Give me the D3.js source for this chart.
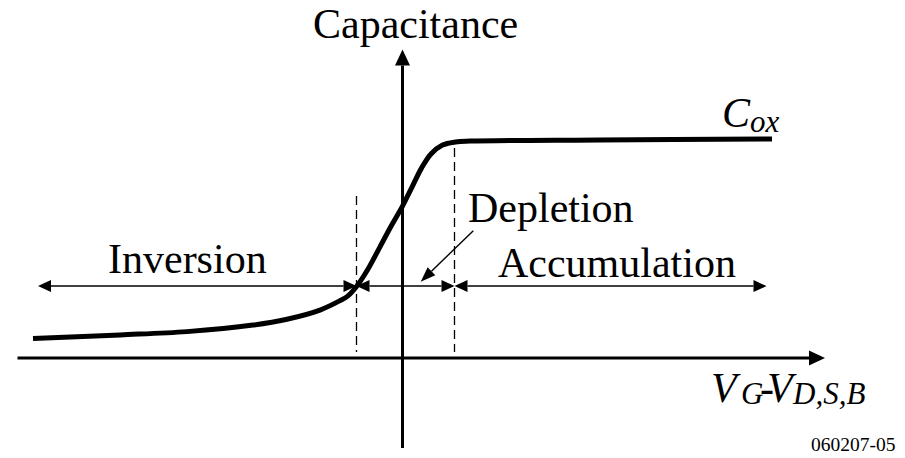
<!DOCTYPE html>
<html><head><meta charset="UTF-8"><style>body{margin:0}</style></head>
<body>
<svg id="chart" width="905" height="458"></svg>
<script src="https://d3js.org/d3.v7.min.js"></script>
<script>
  // C-V curve (normalised capacitance vs gate voltage, arbitrary units)
  const voltage = [-7.39, -5.65, -4.31, -2.99, -2.31, -1.65, -1.25, -1.09, -0.92, -0.68, -0.45, -0.21, 0, 0.19, 0.38, 0.57, 0.80, 1.06, 1.35, 3.95, 7.39];
  const capacitance = [0.090, 0.106, 0.121, 0.151, 0.178, 0.220, 0.263, 0.285, 0.328, 0.412, 0.510, 0.612, 0.697, 0.784, 0.871, 0.936, 0.977, 0.991, 0.995, 1.0, 1.005];

  // region boundaries and region arrows
  const regionNames = ["Inversion", "Depletion", "Accumulation"];
  const regionStart = [-7.29, -0.92, 1.04];
  const regionEnd = [-0.92, 1.04, 7.28];
  const regionArrowC = 0.33;
  const boundaryV = [-0.92, 1.04];
  const boundaryTopC = [0.743, 0.963];

  const svg = d3.select("#chart");

  const x = d3.scaleLinear().domain([-8, 8.5]).range([2.5, 827.5]);
  const y = d3.scaleLinear().domain([0, 1]).range([358, 140]);

  // filled triangle with its tip at (tx,ty), pointing away from (fx,fy)
  function head(fx, fy, tx, ty, len, wid) {
    const a = Math.atan2(ty - fy, tx - fx);
    const bx = tx - len * Math.cos(a), by = ty - len * Math.sin(a);
    const nx = -Math.sin(a) * wid / 2, ny = Math.cos(a) * wid / 2;
    svg.append("path")
      .attr("d", `M${tx},${ty}L${bx + nx},${by + ny}L${bx - nx},${by - ny}Z`)
      .attr("fill", "#000");
    return [bx, by];
  }
  function arrow(x1, y1, x2, y2, w, len, wid, both) {
    let s = [x1, y1];
    if (both) s = head(x2, y2, x1, y1, len, wid);
    const e = head(x1, y1, x2, y2, len, wid);
    svg.append("line")
      .attr("x1", s[0]).attr("y1", s[1]).attr("x2", e[0] + (x2 - x1 === 0 ? 0 : 0)).attr("y2", e[1])
      .attr("stroke", "#000").attr("stroke-width", w);
  }

  // axes
  arrow(x(-7.7), y(0), x(8.45), y(0), 3, 16, 15, false);
  arrow(x(0), y(-0.413), x(0), y(1.415), 3, 16, 15, false);

  // dashed boundaries
  svg.selectAll(".bound")
    .data(boundaryV)
    .join("line")
    .attr("class", "bound")
    .attr("x1", d => x(d)).attr("x2", d => x(d))
    .attr("y1", (d, i) => y(boundaryTopC[i])).attr("y2", y(0.028))
    .attr("stroke", "#000").attr("stroke-width", 1.3)
    .attr("stroke-dasharray", "9,5");

  // region arrows
  regionNames.forEach((d, i) => {
    arrow(x(regionStart[i]), y(regionArrowC), x(regionEnd[i]), y(regionArrowC), 1.4, 13, 12, true);
  });

  // depletion pointer
  arrow(x(1.416), y(0.584), x(0.364), y(0.35), 1.4, 15, 11, false);

  // C-V curve
  const pts = voltage.map((v, i) => [v, capacitance[i]]);
  svg.append("path")
    .datum(pts)
    .attr("fill", "none")
    .attr("stroke", "#000")
    .attr("stroke-width", 5)
    .attr("stroke-linejoin", "round")
    .attr("d", d3.line().x(d => x(d[0])).y(d => y(d[1])).curve(d3.curveCatmullRom.alpha(0.5)));

  // labels
  const big = 42, sub = 31;
  const label = (tx, ty, size) => svg.append("text")
    .attr("x", tx).attr("y", ty)
    .attr("font-size", size)
    .style("font-family", "'Liberation Serif'");

  label(313, 38, big).text("Capacitance");
  label(108, 273, big).text(regionNames[0]);
  label(468, 222, big).text(regionNames[1]);
  label(498, 277, big).text(regionNames[2]);

  const cox = label(722, 127, big).style("font-style", "italic");
  cox.append("tspan").text("C");
  cox.append("tspan").attr("font-size", sub).attr("dy", 5).text("ox");

  const vl = label(0, 402, big).style("font-style", "italic");
  vl.append("tspan").attr("x", 711).text("V");
  vl.append("tspan").attr("x", 741).attr("font-size", sub).attr("dy", 2).text("G");
  vl.append("tspan").attr("x", 760).style("font-style", "normal").attr("dy", -2).text("-");
  vl.append("tspan").attr("x", 767).text("V");
  vl.append("tspan").attr("x", 793).attr("font-size", sub).attr("dy", 2).text("D,S,B");

  label(811, 451, 19.5).text("060207-05");
</script>
</body></html>
